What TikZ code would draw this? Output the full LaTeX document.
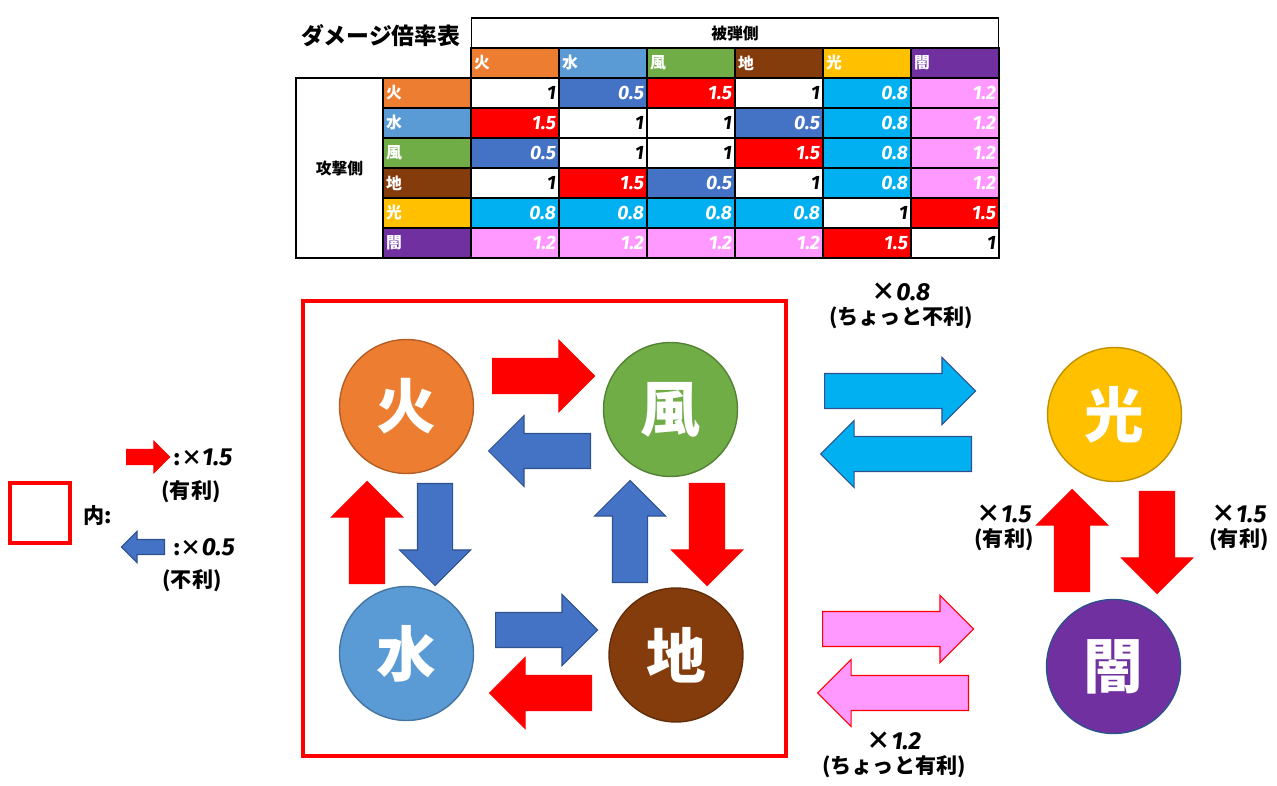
\documentclass[tikz,border=0pt]{standalone}
\usepackage{fontspec}
\setmainfont{Noto Sans CJK JP}
\newfontfamily\numfont{Fira Sans}
\usepackage{xcolor}
\usepackage{tikz}
\usetikzlibrary{shapes.arrows, positioning}

\definecolor{cfire}{HTML}{ED7D31}
\definecolor{cwater}{HTML}{5B9BD5}
\definecolor{cwind}{HTML}{70AD47}
\definecolor{cearth}{HTML}{843C0C}
\definecolor{clight}{HTML}{FFC000}
\definecolor{cdark}{HTML}{7030A0}
\definecolor{cweak}{HTML}{4472C4}
\definecolor{cweakline}{HTML}{2F528F}
\definecolor{cstrong}{HTML}{FF0000}
\definecolor{csky}{HTML}{00B0F0}
\definecolor{cpink}{HTML}{FF99FF}

\newcommand{\numtxt}[1]{{\numfont\bfseries\itshape #1}}

\begin{document}
\begin{tikzpicture}[
    x=0.02cm, y=-0.02cm,
    cell/.style={draw=black, line width=0.6pt, minimum width=1.76cm, minimum height=0.6cm, inner sep=0.06cm, outer sep=0pt},
    valcell/.style={cell, text width=1.64cm, align=right, text=white, font=\fontsize{11}{11}\selectfont\numfont\bfseries\itshape},
    labcell/.style={cell, text width=1.64cm, align=left, text=white, font=\fontsize{9}{9}\selectfont\bfseries},
    v1/.style={fill=white, text=black},
    v0.5/.style={fill=cweak},
    v1.5/.style={fill=cstrong},
    v0.8/.style={fill=csky},
    v1.2/.style={fill=cpink},
    elem/.style={circle, minimum size=2.68cm, inner sep=0pt, line width=0.8pt, text=white, font=\fontsize{34}{34}\selectfont\bfseries},
    arr/.style={single arrow, anchor=tail, inner sep=0pt, inner ysep=0.34cm, single arrow head extend=0.36cm, minimum height=2.04cm, line width=0.6pt},
    longarr/.style={arr, minimum height=3.02cm, single arrow head extend=0.32cm},
    tinyarr/.style={arr, minimum height=0.86cm, inner ysep=0.14cm, single arrow head extend=0.16cm},
    redarr/.style={fill=cstrong, draw=cstrong},
    bluarr/.style={fill=cweak, draw=cweakline},
    skyarr/.style={fill=csky, draw=cweakline},
    pinkarr/.style={fill=cpink, draw=cstrong},
    lbl/.style={inner sep=0pt, align=center, font=\fontsize{12}{14}\selectfont\bfseries}
]
\useasboundingbox (0,0) rectangle (1277,786);

% damage table
\node[font=\fontsize{13}{13}\selectfont\bfseries] (title) at (381,36) {ダメージ倍率表};
\node[cell, minimum width=10.56cm, font=\fontsize{9}{9}\selectfont\bfseries] (defside) at (735,33) {被弾側};
\node[cell, minimum width=1.74cm, minimum height=3.6cm, font=\fontsize{9}{9}\selectfont\bfseries] (atkside) at (339.5,168) {攻撃側};
\foreach \lab/\col [count=\c] in {火/cfire, 水/cwater, 風/cwind, 地/cearth, 光/clight, 闇/cdark}{
    \node[labcell, fill=\col] (h-\c) at ({515+88*(\c-1)},63) {\lab};
    \node[labcell, fill=\col] (r-\c) at (427,{93+30*(\c-1)}) {\lab};
}
\foreach \vals [count=\r] in {{1,0.5,1.5,1,0.8,1.2}, {1.5,1,1,0.5,0.8,1.2}, {0.5,1,1,1.5,0.8,1.2},
        {1,1.5,0.5,1,0.8,1.2}, {0.8,0.8,0.8,0.8,1,1.5}, {1.2,1.2,1.2,1.2,1.5,1}}
    \foreach \v [count=\c] in \vals
        \node[valcell, v\v] (v-\r-\c) at ({515+88*(\c-1)},{93+30*(\r-1)}) {\v};

% four elements
\node[draw=cstrong, line width=2.3pt, minimum width=9.66cm, minimum height=9.1cm] (box) at (544.5,528.5) {};
\node[elem, fill=cfire, draw=cfire!75!black] (fire) at (406.5,406.5) {火};
\node[elem, fill=cwind, draw=cwind!75!black] (wind) at (670.5,409.5) {風};
\node[elem, fill=cwater, draw=cwater!75!black] (water) at (406.5,653.5) {水};
\node[elem, fill=cearth, draw=cearth!75!black] (earth) at (676,655) {地};

\node[arr, redarr] (fire-wind) at (492,376) {};
\node[arr, bluarr, rotate=180] (wind-fire) at (591,451) {};
\node[arr, redarr, rotate=90] (water-fire) at (367,584) {};
\node[arr, bluarr, rotate=-90] (fire-water) at (435,483) {};
\node[arr, bluarr, rotate=90] (earth-wind) at (630,583) {};
\node[arr, redarr, rotate=-90] (wind-earth) at (707,483) {};
\node[arr, bluarr] (water-earth) at (495,630) {};
\node[arr, redarr, rotate=180] (earth-water) at (592,693) {};

% light and dark
\node[elem, fill=clight, draw=clight!75!black] (light) at (1114.5,414.5) {光};
\node[elem, fill=cdark, draw=cweakline] (dark) at (1113.5,666.5) {闇};

\node[longarr, skyarr] (sky-r) at (824,391) {};
\node[longarr, skyarr, rotate=180] (sky-l) at (972,454) {};
\node[longarr, pinkarr] (pink-r) at (822,629) {};
\node[longarr, pinkarr, rotate=180] (pink-l) at (969,693) {};
\node[arr, redarr, rotate=90] (dark-light) at (1072,592) {};
\node[arr, redarr, rotate=-90] (light-dark) at (1157,491) {};

\node[lbl] (sky-txt) at (901,306) {{\fontsize{14}{16}\selectfont ×\numtxt{0.8}}\\(ちょっと不利)};
\node[lbl] (pink-txt) at (894,755) {{\fontsize{14}{16}\selectfont ×\numtxt{1.2}}\\(ちょっと有利)};
\node[lbl] (dl-txt) at (1004,528) {{\fontsize{14}{16}\selectfont ×\numtxt{1.5}}\\(有利)};
\node[lbl] (ld-txt) at (1239,528) {{\fontsize{14}{16}\selectfont ×\numtxt{1.5}}\\(有利)};

% legend
\node[draw=cstrong, line width=2.3pt, minimum size=1.2cm] (legbox) at (40,513) {};
\node[lbl] (in-txt) at (98,516) {内:};
\node[tinyarr, redarr] (leg-red) at (126,457) {};
\node[tinyarr, bluarr, rotate=180] (leg-blue) at (165,547) {};
\node[lbl] (red-txt) at (203,457) {:×\numtxt{\fontsize{14}{16}\selectfont 1.5}};
\node[lbl] (red-sub) at (191,492) {(有利)};
\node[lbl] (blue-txt) at (204,547) {:×\numtxt{\fontsize{14}{16}\selectfont 0.5}};
\node[lbl] (blue-sub) at (192,581) {(不利)};
\end{tikzpicture}
\end{document}
